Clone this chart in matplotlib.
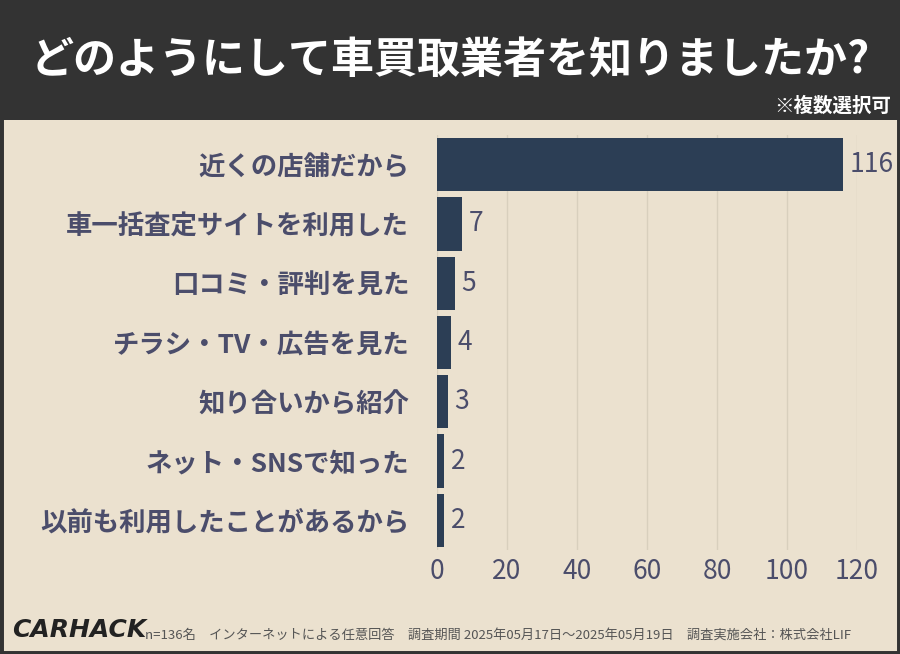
import matplotlib
matplotlib.use("Agg")
import matplotlib.pyplot as plt
from matplotlib.patches import Rectangle

plt.rcParams['font.family'] = ['Noto Sans CJK JP']

categories = ["近くの店舗だから", "車一括査定サイトを利用した", "口コミ・評判を見た",
              "チラシ・TV・広告を見た", "知り合いから紹介", "ネット・SNSで知った",
              "以前も利用したことがあるから"]
values = [116, 7, 5, 4, 3, 2, 2]
xticks = [0, 20, 40, 60, 80, 100, 120]

BG = "#ebe1cf"
BAR = "#2c3e55"
TXT = "#4b4d6b"

fig = plt.figure(figsize=(9, 6.54), dpi=100, facecolor=BG)

# title band
fig.patches.append(Rectangle((0, 1 - 120/654), 1, 120/654, transform=fig.transFigure,
                             facecolor="#333333", edgecolor="none", zorder=0))
fig.text(0.5, 1 - 60/654, "どのようにして車買取業者を知りましたか?", color="white",
         fontsize=31, fontweight="bold", ha="center", va="center")
fig.text(0.99, 1 - 106/654, "※複数選択可", color="white", fontsize=14,
         fontweight="bold", ha="right", va="center")
# frame
fig.patches.append(Rectangle((0, 0), 1, 1, transform=fig.transFigure, fill=False,
                             edgecolor="#333333", linewidth=5, zorder=5))

ax = fig.add_axes([437/900, 1 - 550/654, 420/900, 415/654])
ax.set_facecolor(BG)
y = list(range(len(categories)))
ax.barh(y, values, height=0.9, color=BAR, zorder=3)
for yi, v in zip(y, values):
    ax.text(v + 2, yi, str(v), va="center", ha="left", fontsize=19, color=TXT)
ax.set_yticks(y)
ax.set_yticklabels(categories, fontsize=19, fontweight="bold", color=TXT)
ax.set_xticks(xticks)
ax.set_xticklabels([str(t) for t in xticks], fontsize=19, color=TXT)
ax.set_xlim(0, 120)
ax.set_ylim(len(categories) - 0.5, -0.5)
ax.grid(axis="x", color="#d8cfbd", linewidth=1, zorder=0)
for s in ax.spines.values():
    s.set_visible(False)
ax.tick_params(length=0, pad=6)
ax.tick_params(axis="y", pad=20)

fig.text(12/900, 1 - 630/654, "CARHACK", fontsize=18, fontweight="bold",
         fontstyle="italic", color="#222222", va="center", family="DejaVu Sans")
fig.text(145/900, 1 - 635/654,
         "n=136名　インターネットによる任意回答　調査期間 2025年05月17日〜2025年05月19日　調査実施会社：株式会社LIF",
         fontsize=9.5, color="#555555", va="center")

fig.savefig("out.png", dpi=100, facecolor=BG)
